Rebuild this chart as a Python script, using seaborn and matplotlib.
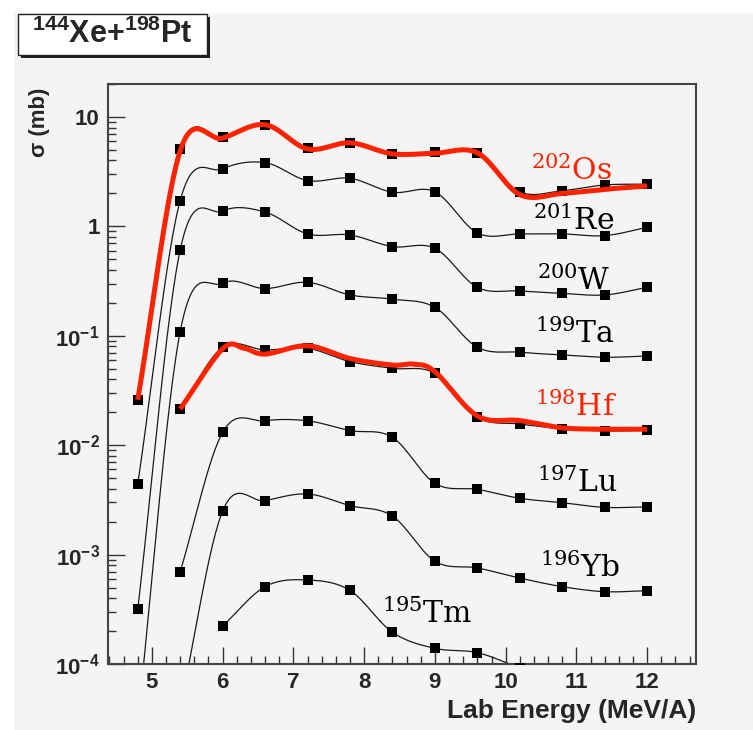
import numpy as np
import matplotlib
matplotlib.use("Agg")
import matplotlib.pyplot as plt
import seaborn as sns
from matplotlib.patches import Rectangle
from matplotlib.ticker import FixedLocator, MultipleLocator, LogLocator, NullFormatter

# ---------------- data ----------------
energy = [4.8, 5.4, 6.0, 6.6, 7.2, 7.8, 8.4, 9.0, 9.6, 10.2, 10.8, 11.4, 12.0]
nan = np.nan
sigma_os202 = [0.026, 5.1, 6.6, 8.45, 5.24, 5.75, 4.6, 4.75, 4.7, 2.07, 2.12, 2.39, 2.43]
sigma_re201 = [4.4e-3, 1.72, 3.35, 3.82, 2.62, 2.75, 2.05, 2.07, 0.87, 0.853, 0.853, 0.822, 0.98]
sigma_w200 = [3.16e-4, 0.608, 1.38, 1.35, 0.853, 0.834, 0.653, 0.63, 0.277, 0.257, 0.244, 0.236, 0.277]
sigma_ta199 = [3.0e-5, 0.109, 0.302, 0.27, 0.308, 0.236, 0.216, 0.182, 0.0785, 0.0707, 0.0668, 0.0636, 0.0653]
sigma_hf198 = [nan, 0.0214, 0.0785, 0.0742, 0.0769, 0.058, 0.0504, 0.0454, 0.018, 0.0156, 0.0141, 0.0135, 0.0137]
sigma_lu197 = [nan, 6.98e-4, 1.31e-2, 1.67e-2, 1.67e-2, 1.36e-2, 1.18e-2, 4.48e-3, 3.95e-3, 3.27e-3, 2.98e-3, 2.7e-3, 2.73e-3]
sigma_yb196 = [nan, 4.0e-5, 2.5e-3, 3.11e-3, 3.58e-3, 2.8e-3, 2.25e-3, 8.7e-4, 7.55e-4, 6.1e-4, 5.09e-4, 4.58e-4, 4.68e-4]
sigma_tm195 = [nan, nan, 2.22e-4, 5.09e-4, 5.86e-4, 4.7e-4, 1.95e-4, 1.39e-4, 1.27e-4, 9.2e-5, nan, nan, nan]

# red (calculated) curves
red_os_energy = [4.8, 5.4, 6.0, 6.6, 7.2, 7.8, 8.4, 9.0, 9.6, 10.2, 10.8, 11.4, 12.0]
red_os_sigma = [0.026, 4.9, 6.4, 8.5, 5.1, 5.8, 4.6, 4.66, 4.7, 1.95, 2.0, 2.18, 2.34]
red_hf_energy = [5.4, 6.0, 6.3, 6.6, 7.2, 7.8, 8.4, 8.7, 9.0, 9.6, 10.2, 10.8, 11.4, 12.0]
red_hf_sigma = [0.0214, 0.076, 0.077, 0.068, 0.081, 0.062, 0.054, 0.055, 0.047, 0.0185, 0.0168, 0.0144, 0.0140, 0.0140]

iso_labels = [r"$^{202}$Os", r"$^{201}$Re", r"$^{200}$W", r"$^{199}$Ta",
              r"$^{198}$Hf", r"$^{197}$Lu", r"$^{196}$Yb", r"$^{195}$Tm"]
label_energy = [10.36, 10.39, 10.44, 10.42, 10.42, 10.44, 10.49, 8.25]
label_sigma = [2.66, 0.927, 0.262, 0.0853, 0.0185, 3.76e-3, 6.28e-4, 2.35e-4]
label_colors = ["#ff2200", "black", "black", "black", "#ff2200", "black", "black", "black"]

xtick_values = [5, 6, 7, 8, 9, 10, 11, 12]
xtick_labels = ["5", "6", "7", "8", "9", "10", "11", "12"]
ytick_values = [1e-4, 1e-3, 1e-2, 1e-1, 1, 10]
ytick_labels = [r"$10^{-4}$", r"$10^{-3}$", r"$10^{-2}$", r"$10^{-1}$", "1", "10"]

title_text = r"$^{144}$Xe+$^{198}$Pt"
x_title = "Lab Energy (MeV/A)"
y_title = "\u03c3 (mb)"

# ---------------- style ----------------
sns.set_theme(style="white")
plt.rcParams.update({
    "font.family": ["Liberation Sans", "DejaVu Sans"],
    "mathtext.fontset": "custom",
    "mathtext.rm": "Liberation Sans:bold",
    "mathtext.bf": "Liberation Sans:bold",
    "mathtext.it": "Liberation Sans:bold",
    "mathtext.sf": "Liberation Sans:bold",
    "axes.unicode_minus": True,
})

GRAY = "#f4f4f4"
RED = "#ff2200"
W, H = 753, 730


def smooth(xs, ys, n=30):
    """Catmull-Rom curve through the points, in (x, log10 y) space (like ROOT's 'C')."""
    xs = np.asarray(xs, float)
    ys = np.asarray(ys, float)
    m = np.isfinite(ys)
    P = np.column_stack([xs[m], np.log10(ys[m])])
    P = np.vstack([2 * P[0] - P[1], P, 2 * P[-1] - P[-2]])
    out = []
    for i in range(1, len(P) - 2):
        p0, p1, p2, p3 = P[i - 1], P[i], P[i + 1], P[i + 2]
        t = np.linspace(0, 1, n)[:, None]
        seg = 0.5 * ((2 * p1) + (-p0 + p2) * t + (2 * p0 - 5 * p1 + 4 * p2 - p3) * t ** 2
                     + (-p0 + 3 * p1 - 3 * p2 + p3) * t ** 3)
        out.append(seg if i == len(P) - 3 else seg[:-1])
    C = np.vstack(out)
    return C[:, 0], 10 ** C[:, 1]


fig = plt.figure(figsize=(W / 100, H / 100), dpi=100)
fig.patch.set_facecolor("white")
fig.add_artist(Rectangle((14 / W, 0), 1 - 14 / W, 1 - 13 / H, transform=fig.transFigure,
                         facecolor=GRAY, edgecolor="none", zorder=-5))

left, right, top, bottom = 108, 696, 84, 664
ax = fig.add_axes([left / W, 1 - bottom / H, (right - left) / W, (bottom - top) / H])
ax.set_facecolor(GRAY)
ax.set_yscale("log")
ax.set_xlim(4.38, 12.69)
ax.set_ylim(1e-4, 20)

series = [sigma_os202, sigma_re201, sigma_w200, sigma_ta199,
          sigma_hf198, sigma_lu197, sigma_yb196, sigma_tm195]
for vals in series:
    sx, sy = smooth(energy, vals)
    sns.lineplot(x=sx, y=sy, ax=ax, sort=False, estimator=None,
                 color="#1a1a1a", linewidth=0.9, zorder=2)
    sns.scatterplot(x=energy, y=vals, ax=ax, marker="s", s=55, color="black",
                    linewidth=0, zorder=3)

for ex, sg in [(red_os_energy, red_os_sigma), (red_hf_energy, red_hf_sigma)]:
    sx, sy = smooth(ex, sg)
    sns.lineplot(x=sx, y=sy, ax=ax, sort=False, estimator=None,
                 color=RED, linewidth=3.6, zorder=4, solid_capstyle="butt")

for lab, ex, sg, col in zip(iso_labels, label_energy, label_sigma, label_colors):
    ax.text(ex, sg, lab, color=col, fontsize=21.5, family="DejaVu Serif",
            math_fontfamily="dejavuserif", ha="left", va="baseline", zorder=5)

# axes
ax.xaxis.set_major_locator(FixedLocator(xtick_values))
ax.set_xticklabels(xtick_labels)
ax.xaxis.set_minor_locator(MultipleLocator(0.2))
ax.yaxis.set_major_locator(FixedLocator(ytick_values))
ax.set_yticklabels(ytick_labels)
ax.yaxis.set_minor_locator(LogLocator(base=10, subs=np.arange(2, 10)))
ax.yaxis.set_minor_formatter(NullFormatter())
ax.tick_params(which="both", direction="in", top=False, right=False,
               left=True, bottom=True, color="#333333", width=1.0)
ax.tick_params(which="major", length=12, pad=6, labelsize=16)
ax.tick_params(which="minor", length=6)
for t in ax.get_xticklabels() + ax.get_yticklabels():
    t.set_fontweight("bold")
for s in ax.spines.values():
    s.set_visible(True)
    s.set_color("#444444")
    s.set_linewidth(1.5)
ax.set_xlabel("")
ax.set_ylabel("")

fig.text(696 / W, 1 - 718 / H, x_title, ha="right", va="baseline",
         fontsize=19, fontweight="bold")
fig.text(40 / W, 1 - 88 / H, y_title, ha="center", va="top", rotation=90,
         fontsize=16, fontweight="bold")

# title box with shadow
bx0, by0, bx1, by1 = 18, 14, 207, 55
fig.add_artist(Rectangle(((bx0 + 3) / W, 1 - (by1 + 3) / H), (bx1 - bx0) / W, (by1 - by0) / H,
                         transform=fig.transFigure, facecolor="#222222", edgecolor="none", zorder=5))
fig.add_artist(Rectangle((bx0 / W, 1 - by1 / H), (bx1 - bx0) / W, (by1 - by0) / H,
                         transform=fig.transFigure, facecolor="white", edgecolor="#222222",
                         linewidth=1.0, zorder=6))
fig.text((bx0 + bx1) / 2 / W, 1 - (by0 + by1) / 2 / H, title_text, ha="center", va="center",
         fontsize=22, fontweight="bold", zorder=7)

fig.savefig("out.png", dpi=100)
